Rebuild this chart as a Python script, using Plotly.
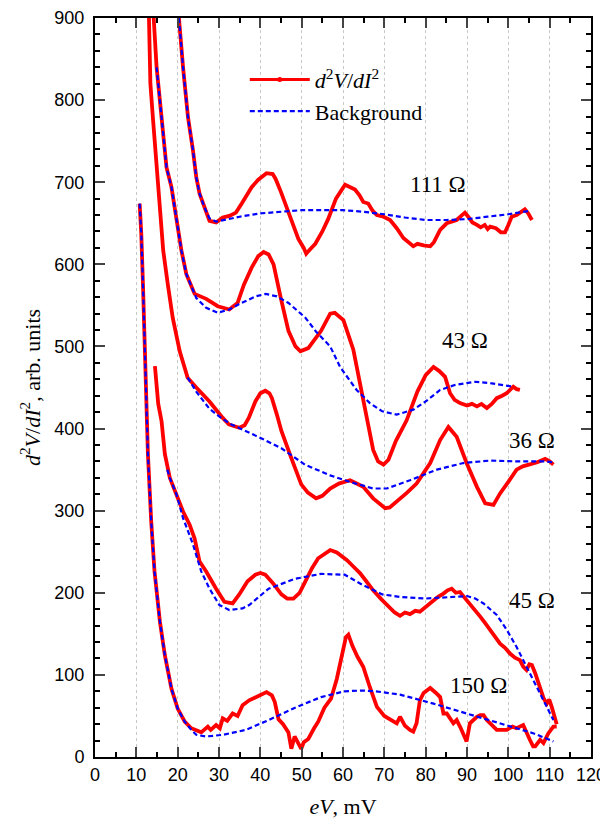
import plotly.graph_objects as go

# ---------------- data ----------------
x111 = [19.9, 20.3, 21.3, 22.5, 23.7, 24.5, 25.3, 26.5, 27.7, 29.3, 30.2, 30.9, 32.5, 34.1, 35.5, 37.9, 39.5, 41.5, 43, 43.7, 45, 46, 47.5, 49.2, 50.5, 51.1, 52, 53.3, 55, 56.4, 58.3, 60.5, 62.9, 64.0, 64.9, 66.1, 67.2, 68.2, 69.8, 70.6, 71.4, 73, 74.6, 77, 78, 79.5, 81.1, 82, 83.5, 85.1, 86.3, 87.5, 88.8, 89.5, 90.3, 91.3, 92.4, 93.3, 94.3, 95, 95.6, 97, 98.2, 99.2, 100, 100.8, 102, 103, 104, 104.8, 105.7]
y111 = [960, 900, 840, 779, 739, 706, 686, 669, 653, 651, 655, 657, 659, 663, 674, 694, 703, 711, 710, 704, 688, 674, 655, 631, 620, 613, 618, 625, 640, 655, 680, 697, 691, 684, 676, 674, 665, 660, 658, 656, 654, 644, 632, 622, 625, 623, 622, 627, 642, 650, 652, 654, 660, 663, 658, 651, 648, 645, 648, 643, 646, 644, 639, 639, 648, 658, 660, 664, 667, 662, 654]
bx111 = [20.3, 21.3, 22.5, 23.7, 24.5, 25.3, 26.5, 27.7, 29.3, 31, 35, 40, 45, 50, 55, 60, 65, 70, 75, 80, 85, 90, 95, 100, 105]
by111 = [900, 840, 779, 739, 706, 686, 669, 656, 652, 654, 658, 662, 664, 666, 666, 666, 664, 661, 657, 654, 654, 655, 658, 661, 665]

x43 = [13.8, 14.2, 14.9, 15.7, 16.5, 17.3, 18.5, 19.7, 20.9, 22.1, 24.1, 26.9, 29.7, 32.5, 34.5, 36, 37.9, 39.5, 40.8, 42, 43.2, 44.9, 46.8, 48.5, 49.7, 51.6, 53, 54.7, 56.9, 58, 60.1, 61.3, 62.5, 64.9, 67.3, 68.5, 69.8, 71, 72.8, 75.4, 78, 80, 81.9, 83.3, 84.7, 85.9, 87, 88.3, 90, 91.2, 92.4, 93.5, 94.8, 96, 97.2, 98.5, 99.6, 101.2, 102, 102.8]
y43 = [960, 900, 840, 800, 759, 718, 694, 657, 617, 588, 564, 558, 549, 545, 553, 575, 596, 610, 615, 612, 600, 560, 519, 500, 494, 498, 508, 519, 540, 541, 532, 515, 496, 435, 374, 360, 356, 362, 385, 410, 445, 465, 475, 470, 463, 443, 435, 431, 428, 430, 427, 430, 425, 430, 437, 440, 443, 451, 448, 447]
bx43 = [14.9, 15.7, 16.5, 17.3, 18.5, 19.7, 20.9, 22.1, 24.5, 26.9, 29.7, 32.5, 35, 38.9, 41.3, 44, 46.8, 50.9, 53.5, 56.9, 59.3, 63.3, 66.5, 69.5, 73, 77, 80, 83.5, 87, 91.9, 96, 101.2]
by43 = [840, 800, 759, 718, 694, 657, 617, 588, 559, 547, 541, 545, 552, 561, 564, 561, 553, 535, 518, 500, 475, 447, 431, 421, 417, 423, 433, 447, 453, 457, 455, 451]

x36 = [12.8, 13.0, 13.4, 14.0, 14.9, 15.7, 16.5, 17.6, 18.8, 20.5, 22.4, 24.5, 27.7, 30.9, 32.4, 34.9, 36.2, 37.2, 38.8, 40, 41.2, 42.2, 42.8, 44, 45.1, 47.5, 49.9, 51.5, 53.5, 55, 56.9, 59, 61.7, 63.3, 64.9, 67.3, 70.2, 71.3, 73, 75.5, 77.8, 81.1, 83.5, 85.5, 87.5, 89.9, 92.4, 94.4, 96.4, 98, 100, 102, 103.5, 105.2, 107, 108.9, 110, 110.9]
y36 = [960, 900, 820, 779, 718, 657, 617, 576, 535, 494, 462, 450, 433, 413, 405, 401, 404, 413, 433, 443, 446, 443, 437, 417, 397, 364, 332, 322, 315, 318, 327, 333, 337, 333, 329, 315, 303, 304, 311, 322, 333, 358, 386, 402, 390, 358, 329, 309, 307, 321, 335, 350, 354, 356, 359, 363, 360, 356]
bx36 = [22.4, 24.5, 27.7, 30.5, 33, 35.7, 40.3, 45.1, 50.8, 56.9, 61.7, 67.3, 70.6, 76.2, 82.7, 89.1, 95.6, 102, 108.5, 110.9]
by36 = [462, 445, 424, 413, 405, 399, 388, 376, 356, 343, 335, 327, 327, 337, 350, 358, 361, 360, 360, 359]

x45 = [14.5, 15.3, 16.1, 16.9, 18.1, 19.7, 21.3, 22.9, 24.1, 25.3, 26.9, 29.3, 31.3, 33.3, 34.9, 36.9, 38.8, 40, 41.2, 43, 45.1, 46.5, 48, 49.5, 50.8, 52.5, 54, 56.9, 58.5, 60.9, 62.5, 64.1, 65.5, 67.3, 69.3, 71.4, 72.5, 73.8, 75, 76.2, 77.5, 78.6, 80, 81.9, 83, 84.3, 85.3, 86.3, 87.3, 88.3, 89.5, 90.7, 92, 93.2, 94.4, 95.6, 96.8, 98, 99.2, 100.4, 101.6, 102.8, 103.6, 104.4, 105.1, 105.7, 106.5, 107.1, 107.7, 108.5, 109.3, 109.9, 110.5, 111.0, 111.3, 111.7]
y45 = [476, 430, 409, 369, 340, 320, 299, 283, 266, 238, 226, 205, 189, 187, 198, 214, 222, 224, 222, 212, 198, 193, 193, 200, 214, 230, 242, 252, 249, 240, 232, 224, 215, 203, 192, 181, 176, 172, 176, 174, 178, 177, 183, 191, 195, 199, 203, 205, 200, 201, 194, 187, 179, 171, 163, 155, 147, 138, 133, 126, 121, 118, 110, 106, 113, 112, 102, 93, 82, 72, 65, 70, 61, 52, 45, 40]
bx45 = [17.5, 18.1, 19.7, 21.3, 23.7, 25.7, 27.7, 30.1, 32.5, 35.7, 37.3, 42, 48.4, 54.7, 60.4, 64.6, 69.5, 73.8, 80, 86, 90, 92, 94, 97.2, 99.6, 102, 103.6, 106, 108.5, 110.9]
by45 = [350, 340, 320, 291, 259, 226, 205, 185, 179, 181, 185, 205, 217, 223, 222, 210, 198, 195, 193, 195, 196, 193, 187, 173, 155, 134, 118, 94, 69, 45]

x150 = [10.8, 11.2, 11.6, 12.0, 12.4, 12.8, 13.6, 14.4, 15.7, 16.9, 18.5, 20, 21.7, 23.3, 25.7, 27.3, 28, 29.3, 30.2, 30.9, 32, 33.3, 34.5, 35.7, 37.3, 38.5, 40.3, 41.5, 42.8, 43.5, 44.4, 45.5, 46.8, 47.5, 48.3, 49.2, 49.9, 50.5, 51.6, 53, 54, 55.5, 57.1, 58.5, 59.5, 60.7, 61.3, 62.3, 63.5, 64.9, 66.5, 68.2, 70, 71.5, 73, 73.8, 75, 76.2, 77, 77.8, 78.6, 79.5, 81.1, 82.5, 83.5, 84.3, 85.1, 86.7, 87.5, 88.5, 89.9, 90.7, 91.5, 92.4, 93.2, 94, 94.8, 96.4, 97.2, 98.8, 99.6, 101, 102, 103.6, 104.5, 105.2, 106, 106.5, 107.7, 108.5, 109.7, 110.9, 111.7]
y150 = [674, 637, 576, 515, 430, 369, 287, 226, 165, 124, 83, 59, 43, 35, 30, 37, 33, 39, 35, 47, 44, 53, 50, 63, 69, 72, 77, 79, 75, 67, 46, 40, 30, 10, 25, 15, 10, 18, 22, 35, 43, 60, 71, 95, 120, 146, 149, 135, 122, 110, 85, 61, 50, 45, 41, 49, 38, 33, 31, 41, 69, 78, 84, 78, 73, 53, 53, 41, 45, 35, 19, 41, 45, 49, 51, 51, 45, 37, 33, 33, 33, 37, 35, 39, 28, 21, 13, 13, 21, 17, 29, 37, 37]
bx150 = [10.8, 11.2, 11.6, 12.0, 12.4, 12.8, 13.6, 14.4, 15.7, 16.9, 18.5, 20, 21.7, 23.3, 24.5, 26.9, 30.9, 36.5, 42, 48.4, 54.7, 60.4, 64.6, 68, 73.8, 81.9, 89.9, 98, 106, 110.9]
by150 = [674, 637, 576, 515, 430, 369, 287, 226, 165, 124, 83, 59, 43, 33, 27, 25, 27, 33, 45, 60, 73, 80, 81, 80, 76, 65, 53, 41, 29, 19]

labels = ["111 Ω", "43 Ω", "36 Ω", "45 Ω", "150 Ω"]
label_x = [83, 89.5, 105.7, 105.7, 92.9]
label_y = [697, 507, 385, 190, 87]

xticks = list(range(0, 121, 10))
yticks = list(range(0, 901, 100))

RED = "#ff0000"
BLUE = "#0000ff"
SERIF = "Liberation Serif, Times New Roman, serif"
SANS = "Liberation Sans, Arial, sans-serif"

fig = go.Figure()

curves = [(x111, y111, bx111, by111), (x43, y43, bx43, by43), (x36, y36, bx36, by36),
          (x45, y45, bx45, by45), (x150, y150, bx150, by150)]

for xr, yr, xb, yb in curves:
    fig.add_trace(go.Scatter(x=xr, y=yr, mode="lines", line=dict(color=RED, width=3.8),
                             showlegend=False, hoverinfo="skip"))
for xr, yr, xb, yb in curves:
    fig.add_trace(go.Scatter(x=xb, y=yb, mode="lines",
                             line=dict(color=BLUE, width=2.2, dash="5px,3px"),
                             showlegend=False, hoverinfo="skip"))

# legend entries
fig.add_trace(go.Scatter(x=[None], y=[None], mode="lines+markers",
                         line=dict(color=RED, width=3), marker=dict(color=RED, size=5),
                         name="<i>d</i><sup>2</sup><i>V</i>/<i>dI</i><sup>2</sup>"))
fig.add_trace(go.Scatter(x=[None], y=[None], mode="lines",
                         line=dict(color=BLUE, width=2.2, dash="5px,3px"),
                         name="Background"))

for t, lx, ly in zip(labels, label_x, label_y):
    fig.add_annotation(x=lx, y=ly, text=t, showarrow=False,
                       font=dict(family=SERIF, size=23, color="black"))

# the page adds an 8px body margin, so the figure is sized to fit the window
fig.update_layout(
    width=600, height=817,
    margin=dict(l=87, r=17, t=10, b=68),
    paper_bgcolor="white", plot_bgcolor="white",
    legend=dict(x=0.302, y=0.945, xanchor="left", yanchor="top",
                font=dict(family=SERIF, size=22, color="black"),
                bgcolor="rgba(0,0,0,0)", itemwidth=60, tracegroupgap=0),
)
fig.update_xaxes(
    range=[0, 120], tickvals=xticks, ticks="inside", ticklen=10, tickwidth=2,
    showline=True, linewidth=2, linecolor="black", mirror="allticks",
    showgrid=True, gridcolor="#c8c8c8", griddash="dot", gridwidth=1, zeroline=False,
    tickfont=dict(family=SANS, size=18, color="black"), automargin=False,
    minor=dict(dtick=5, ticks="inside", ticklen=5, tickwidth=2, tickcolor="black", showgrid=False),
    title=dict(text="<i>eV</i>, mV", font=dict(family=SERIF, size=22, color="black"), standoff=15),
)
fig.update_yaxes(
    range=[0, 900], tickvals=yticks, ticks="inside", ticklen=10, tickwidth=2,
    showline=True, linewidth=2, linecolor="black", mirror="allticks",
    showgrid=False, zeroline=False, automargin=False, ticklabelstandoff=5,
    tickfont=dict(family=SANS, size=18, color="black"),
    minor=dict(dtick=20, ticks="inside", ticklen=5, tickwidth=2, tickcolor="black", showgrid=False),
    title=dict(text="<i>d</i><sup>2</sup><i>V</i>/<i>dI</i><sup>2</sup>, arb. units",
               font=dict(family=SERIF, size=22, color="black"), standoff=8),
)

fig.write_html("out.html")
